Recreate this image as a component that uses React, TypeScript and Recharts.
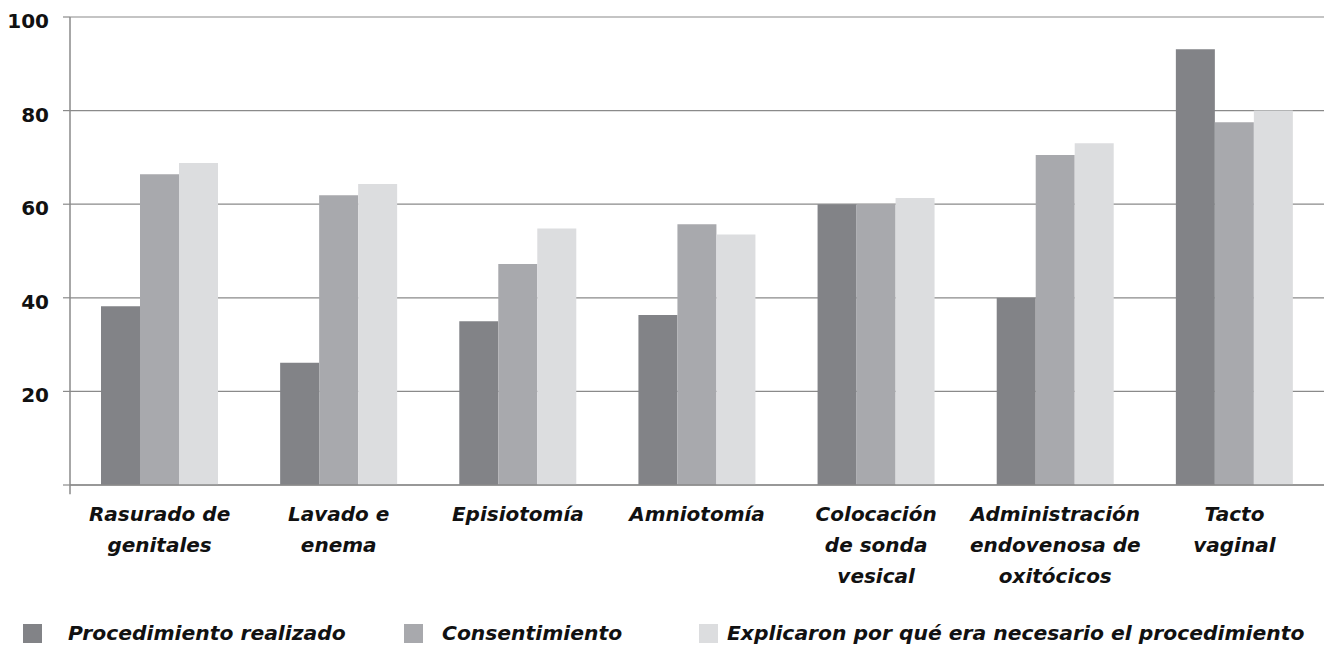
import React from 'react';
import { BarChart, Bar, XAxis, YAxis, CartesianGrid, Legend, ReferenceLine } from 'recharts';

const categories = [
  'Rasurado de genitales',
  'Lavado e enema',
  'Episiotomía',
  'Amniotomía',
  'Colocación de sonda vesical',
  'Administración endovenosa de oxitócicos',
  'Tacto vaginal',
];
const categoryLines = [
  ['Rasurado de', 'genitales'],
  ['Lavado e', 'enema'],
  ['Episiotomía'],
  ['Amniotomía'],
  ['Colocación', 'de sonda', 'vesical'],
  ['Administración', 'endovenosa de', 'oxitócicos'],
  ['Tacto', 'vaginal'],
];
const seriesNames = [
  'Procedimiento realizado',
  'Consentimiento',
  'Explicaron por qué era necesario el procedimiento',
];
const realizado = [38.2, 26.1, 35.0, 36.3, 60.0, 40.0, 93.1];
const consentimiento = [66.4, 61.9, 47.2, 55.7, 60.0, 70.5, 77.5];
const explicaron = [68.8, 64.3, 54.8, 53.5, 61.3, 73.0, 80.0];
const yTicks = [0, 20, 40, 60, 80, 100];

const colors = ['#828387', '#a8a9ad', '#dcdddf'];
const FONT = '"DejaVu Sans", sans-serif';

const data = categories.map((c, i) => ({
  cat: c,
  realizado: realizado[i],
  consentimiento: consentimiento[i],
  explicaron: explicaron[i],
}));

const XTick = (props: any) => {
  const { x, y, index } = props;
  const lines = categoryLines[index] || [String(props.payload.value)];
  return (
    <text x={x} y={y} textAnchor="middle" fontFamily={FONT} fontWeight="bold" fontStyle="italic" fontSize={20} fill="#111">
      {lines.map((l: string, i: number) => (
        <tspan key={i} x={x} dy={i === 0 ? 36 : 31}>{l}</tspan>
      ))}
    </text>
  );
};

const YTick = (props: any) => {
  const { x, y, payload } = props;
  if (payload.value === 0) return null;
  return (
    <text x={x} y={y} dy={11} textAnchor="end" fontFamily={FONT} fontWeight="bold" fontSize={20} fill="#111">
      {payload.value}
    </text>
  );
};

const legendPos = [
  { sq: 23, tx: 68 },
  { sq: 404, tx: 442 },
  { sq: 699, tx: 727 },
];

const LegendContent = () => (
  <div style={{ position: 'relative', width: 1327, height: 40 }}>
    {seriesNames.map((n, i) => (
      <React.Fragment key={n}>
        <div style={{ position: 'absolute', left: legendPos[i].sq, top: 19, width: 19, height: 19, background: colors[i] }} />
        <div style={{ position: 'absolute', left: legendPos[i].tx, top: 14, fontFamily: FONT, fontWeight: 'bold', fontStyle: 'italic', fontSize: 20.3, lineHeight: '28px', color: '#111', whiteSpace: 'nowrap' }}>{n}</div>
      </React.Fragment>
    ))}
  </div>
);

export default function App() {
  return (
    <div style={{ position: 'absolute', left: 0, top: 0, width: 1327, height: 645, background: '#fff' }}>
      <BarChart width={1327} height={645} data={data} margin={{ top: 17, right: 3, left: 0, bottom: 0 }} barGap={0} barSize={39}>
        <CartesianGrid vertical={false} stroke="#8a8a8a" strokeWidth={1.2} />
        <XAxis dataKey="cat" interval={0} tick={<XTick />} tickLine={false} tickSize={0} tickMargin={0} height={120} axisLine={{ stroke: '#8a8a8a', strokeWidth: 1.5 }} />
        <YAxis domain={[0, 100]} ticks={yTicks} width={70} tick={<YTick />} tickSize={7} tickMargin={14} tickLine={{ stroke: '#8a8a8a', strokeWidth: 1.2 }} axisLine={{ stroke: '#8a8a8a', strokeWidth: 1.5 }} />
        <Legend verticalAlign="bottom" content={<LegendContent />} wrapperStyle={{ left: 0, bottom: 0, width: 1327, height: 40 }} />
        <Bar dataKey="realizado" name={seriesNames[0]} fill={colors[0]} isAnimationActive={false} />
        <Bar dataKey="consentimiento" name={seriesNames[1]} fill={colors[1]} isAnimationActive={false} />
        <Bar dataKey="explicaron" name={seriesNames[2]} fill={colors[2]} isAnimationActive={false} />
        <ReferenceLine segment={[{ x: categories[0], y: 0 }, { x: categories[0], y: -2 }]} position="start" ifOverflow="visible" stroke="#8a8a8a" strokeWidth={1.5} />
      </BarChart>
    </div>
  );
}
